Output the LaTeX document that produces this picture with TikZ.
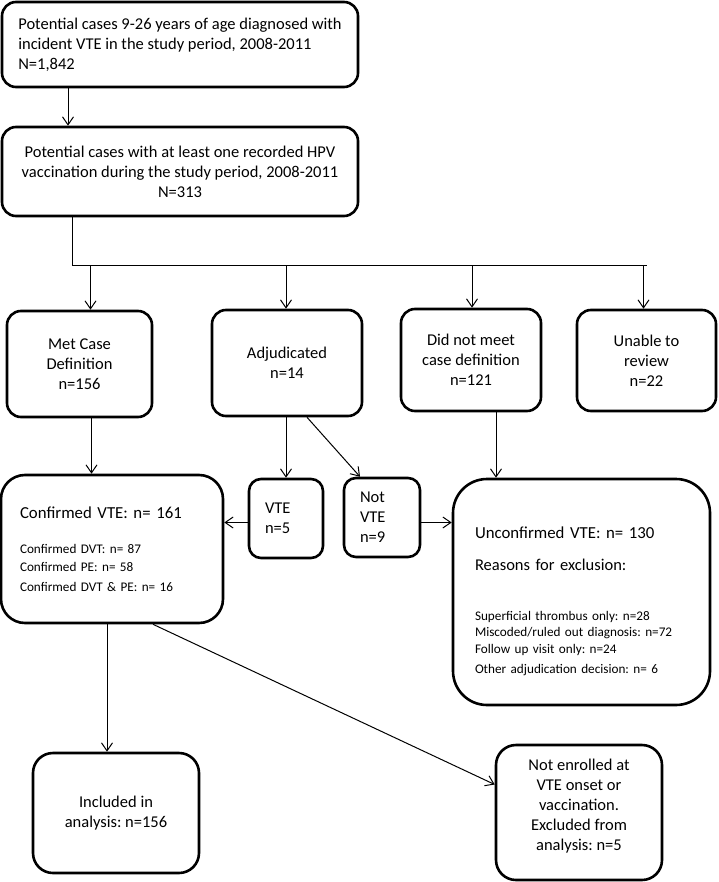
\documentclass[tikz,border=0pt]{standalone}
\usepackage{fontspec}
\setmainfont{Carlito}
\usetikzlibrary{arrows.meta}
\frenchspacing
\newcommand\setfs[2]{\fontsize{#1}{#2}\selectfont\spaceskip=.3333em\relax}

\begin{document}
\begin{tikzpicture}[x=1pt,y=-1pt,
  blk/.style={draw,line width=2.6pt,rounded corners=14pt,align=center,inner sep=0pt,font=\fontsize{16.5}{20}\selectfont},
  arr/.style={line width=1pt,-{Straight Barb[length=8pt,width=11pt]}}]
\useasboundingbox (0,0) rectangle (718,882);

\node[blk,minimum width=356,minimum height=85,align=left] (box1) at (180,44.5) {Potential cases 9-26 years of age diagnosed with\\incident VTE in the study period, 2008-2011\\N=1,842};
\node[blk,minimum width=356,minimum height=89] (box2) at (180,171.5) {Potential cases with at least one recorded HPV\\vaccination during the study period, 2008-2011\\N=313};

\node[blk,minimum width=145,minimum height=106] (met) at (79.5,364) {Met Case\\Definition\\n=156};
\node[blk,minimum width=150,minimum height=106] (adj) at (287,363) {Adjudicated\\n=14};
\node[blk,minimum width=140,minimum height=102] (notmet) at (471,360) {Did not meet\\case definition\\n=121};
\node[blk,minimum width=139,minimum height=101] (unable) at (646.5,360.5) {Unable to\\review\\n=22};

\node[blk,minimum width=222,minimum height=148,rounded corners=24pt,text width=184,align=left] (conf) at (112,549) {\setfs{16.8}{20}Confirmed VTE: n= 161\\[18pt]\setfs{13.2}{17.5}Confirmed DVT: n= 87\\Confirmed PE: n= 58\\Confirmed DVT \& PE: n= 16};
\node[blk,minimum width=74,minimum height=79,rounded corners=12pt,text width=42,align=left] (vte) at (286,518.5) {VTE\\n=5};
\node[blk,minimum width=76,minimum height=79,rounded corners=12pt,text width=44,align=left] (nvte) at (382,517.5) {Not\\VTE\\n=9};
\node[blk,minimum width=257,minimum height=226,rounded corners=34pt,text width=213,align=left] (uncf) at (581.5,592) {\mbox{}\\[10pt]\setfs{16.8}{20}Unconfirmed VTE: n= 130\\[12pt]\setfs{16.5}{20}Reasons for exclusion:\\[33pt]\setfs{13.2}{16.7}Superficial thrombus only: n=28\\Miscoded/ruled out diagnosis: n=72\\Follow up visit only: n=24\\Other adjudication decision: n= 6};

\node[blk,minimum width=166,minimum height=120,rounded corners=20pt] (incl) at (116,813) {Included in\\analysis: n=156};
\node[blk,minimum width=166,minimum height=135,rounded corners=20pt] (excl) at (579,812.5) {Not enrolled at\\VTE onset or\\vaccination.\\Excluded from\\analysis: n=5\\[-4pt]};

\coordinate (bus) at (72,266);
\draw[arr] ([xshift=-112]box1.south) -- ([xshift=-112]box1.south |- box2.north);
\draw[line width=1pt] ([xshift=-108]box2.south) -- (bus) -- (bus -| unable.north);
\foreach \n/\dx in {met/11,adj/-1,notmet/1,unable/-3}
  \draw[arr] ([xshift=\dx]\n.north |- bus) -- ([xshift=\dx]\n.north);
\draw[arr] ([xshift=12]met.south) -- ([xshift=12]met.south |- conf.north);
\draw[arr] ([xshift=-1]adj.south) -- ([xshift=-1]adj.south |- vte.north);
\draw[arr] ([xshift=20]adj.south) -- ([xshift=-22]nvte.north);
\draw[arr] ([xshift=25]notmet.south) -- ([xshift=25]notmet.south |- uncf.north);
\draw[arr] ([yshift=-4]vte.west) -- ([yshift=-4]vte.west -| conf.east);
\draw[arr] ([yshift=-5]nvte.east) -- ([yshift=-5]nvte.east -| uncf.west);
\draw[arr] ([xshift=-5]conf.south) -- ([xshift=-5]conf.south |- incl.north);
\draw[arr] ([xshift=41]conf.south) -- ([yshift=28]excl.west);
\end{tikzpicture}
\end{document}
